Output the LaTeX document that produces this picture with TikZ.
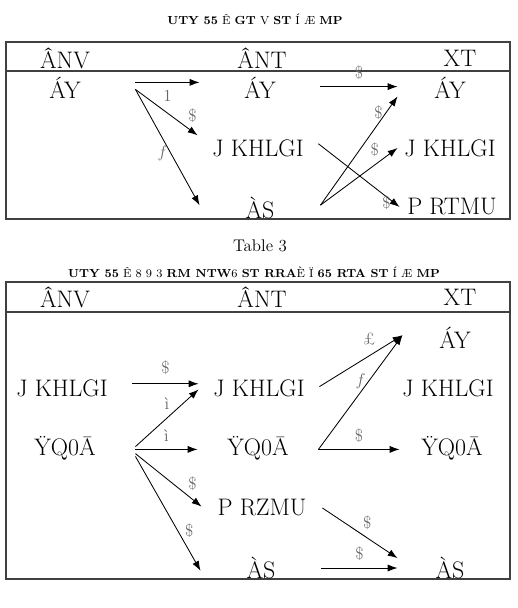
\documentclass[tikz,border=0pt]{standalone}
\usepackage{tikz}
\usetikzlibrary{arrows.meta}

\begin{document}
\begin{tikzpicture}[x=0.025cm, y=-0.025cm, >={Latex[length=7pt,width=5pt]}, line width=0.6pt,
  every node/.style={font=\fontsize{17}{20}\selectfont, inner sep=0pt},
  lcol/.style={minimum width=3.5cm},
  mcol/.style={minimum width=3cm},
  rcol/.style={minimum width=2.6cm},
  lbl/.style={font=\fontsize{12}{14}\selectfont, text=black!60, inner sep=2pt},
  ttl/.style={font=\fontsize{8.3}{10}\selectfont},
  frame/.style={draw=black!75, line width=1pt}]
  \useasboundingbox (0,0) rectangle (518,608);
  % first table
  \node[ttl] (titleA) at (255,19) {\textbf{UTY 55} Ê \textbf{GT} V \textbf{ST} Í Æ \textbf{MP}};
  \draw[frame] (6,42) rectangle (510,219);
  \draw[frame] (6,71) -- (510,71);
  \node (hdA1) at (65,58) {ÂNV};
  \node (hdA2) at (262,58) {ÂNT};
  \node (hdA3) at (460,58) {XT};
  \node[lcol] (lA) at (65,88) {ÁY};
  \node[mcol] (mA) at (260,88) {ÁY};
  \node[mcol] (mB) at (258,148) {J KHLGI};
  \node[mcol] (mC) at (260,208) {ÀS};
  \node[rcol] (rA) at (450,88) {ÁY};
  \node[rcol] (rB) at (450,148) {J KHLGI};
  \node[rcol] (rC) at (452,207) {P RTMU};
  \draw[->] ([yshift=4pt]lA.east) -- ([yshift=4pt]mA.west) node[lbl, midway, below=3pt] {1};
  \draw[->] ([yshift=-1pt]lA.east) -- ([yshift=9pt]mB.west) node[lbl, pos=0.8, above right] {\$};
  \draw[->] ([yshift=-1pt]lA.east) -- ([yshift=2pt]mC.west) node[lbl, pos=0.55, left] {$f$};
  \draw[->] ([yshift=1pt]mA.east) -- ([yshift=1pt]rA.west) node[lbl, midway, above=3pt] {\$};
  \draw[->] ([yshift=3pt]mB.east) -- (rC.west) node[lbl, pos=0.93, left] {\$};
  \draw[->] ([yshift=2pt]mC.east) -- ([yshift=-6pt]rA.west) node[lbl, pos=0.85, left] {\$};
  \draw[->] ([yshift=2pt]mC.east) -- (rB.west) node[lbl, pos=0.8, above left] {\$};
  \node[font=\fontsize{12}{14}\selectfont] (capB) at (260,246) {Table 3};
  % second table
  \node[ttl] (titleB) at (254,272) {\textbf{UTY 55} Ê 8 9 3 \textbf{RM NTW}6 \textbf{ST RRA}È Ï \textbf{65 RTA ST} Í Æ \textbf{MP}};
  \draw[frame] (6,282) rectangle (510,579);
  \draw[frame] (6,312) -- (510,312);
  \node (hdB1) at (65,297) {ÂNV};
  \node (hdB2) at (262,297) {ÂNT};
  \node (hdB3) at (460,297) {XT};
  \node[lcol] (lB2) at (62,388) {J KHLGI};
  \node[lcol] (lC2) at (65,448) {ŸQ0Ā};
  \node[mcol] (mB2) at (259,388) {J KHLGI};
  \node[mcol] (mC2) at (258,448) {ŸQ0Ā};
  \node[mcol] (mD2) at (262,508) {P RZMU};
  \node[mcol] (mE2) at (261,568) {ÀS};
  \node[rcol] (rA2) at (455,338) {ÁY};
  \node[rcol] (rB2) at (448,388) {J KHLGI};
  \node[rcol] (rC2) at (452,448) {ŸQ0Ā};
  \node[rcol] (rE2) at (450,568) {ÀS};
  \draw[->] ([yshift=3pt]lB2.east) -- ([yshift=3pt]mB2.west) node[lbl, midway, above=4pt] {\$};
  \draw[->] ([yshift=1pt]lC2.east) -- ([yshift=-1pt]mB2.west) node[lbl, pos=0.5, above=4pt] {ì};
  \draw[->] ([yshift=-1pt]lC2.east) -- ([yshift=-1pt]mC2.west) node[lbl, midway, above=3pt] {ì};
  \draw[->] ([yshift=-4pt]lC2.east) -- ([yshift=1pt]mD2.west) node[lbl, pos=0.75, above right] {\$};
  \draw[->] ([yshift=-6pt]lC2.east) -- ([yshift=-2pt]mE2.west) node[lbl, pos=0.65, right=3pt] {\$};
  \draw[->] ([yshift=1pt]mB2.east) -- ([yshift=2pt]rA2.west) node[lbl, pos=0.6, above=5pt] {£};
  \draw[->] ([yshift=-1pt]mC2.east) -- ([yshift=2pt]rA2.west) node[lbl, pos=0.6, left] {$f$};
  \draw[->] ([yshift=-1pt]mC2.east) -- ([yshift=-1pt]rC2.west) node[lbl, midway, above=3pt] {\$};
  \draw[->] (mD2.east) -- ([yshift=7pt]rE2.west) node[lbl, pos=0.5, above right] {\$};
  \draw[->] (mE2.east) -- (rE2.west) node[lbl, midway, above=3pt] {\$};
\end{tikzpicture}
\end{document}
